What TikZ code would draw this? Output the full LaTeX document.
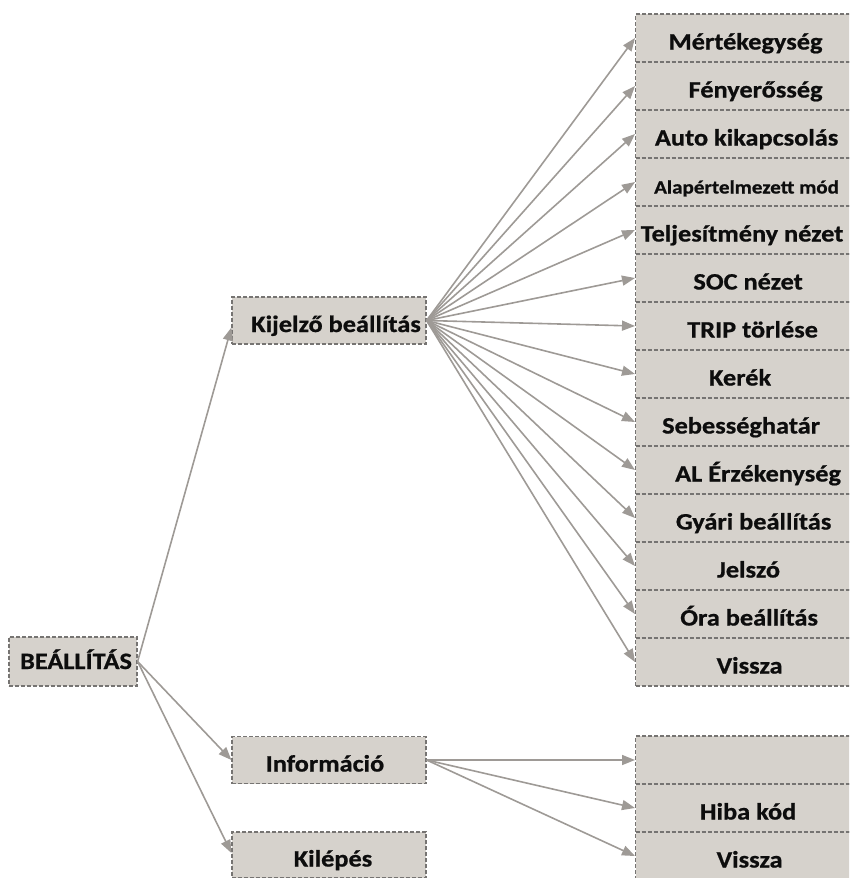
\documentclass[tikz,border=0pt]{standalone}
\usepackage{fontspec}
\setmainfont{Carlito}[FakeStretch=1.12, BoldFeatures={FakeBold=0.8}]
\usetikzlibrary{arrows.meta}
\definecolor{boxfill}{RGB}{214,210,204}
\definecolor{boxline}{RGB}{118,116,114}
\definecolor{arr}{RGB}{158,154,150}
\newcommand\sht[2]{\hspace*{#1}#2}
\begin{document}
\begin{tikzpicture}[x=1pt,y=-1pt,
 box/.style={draw=boxline, fill=boxfill, dash pattern=on 4pt off 2pt, line width=1.2pt, rectangle, inner sep=0pt, text=black!95, font=\bfseries\fontsize{23.5}{26}\selectfont, text height=25pt, text depth=2pt},
 midbox/.style={box, minimum width=194pt, minimum height=47pt},
 rbox/.style={box, minimum width=218pt, minimum height=48pt, anchor=west},
 conn/.style={draw=arr, line width=1.6pt, -{Triangle[length=13pt,width=10pt]}}
]
\useasboundingbox (0,0) rectangle (849,878);
\clip (0,0) rectangle (849,878);

\node[box, minimum width=128pt, minimum height=49pt, text height=16pt, text depth=1pt] (root) at (73,661.5) {\sht{6pt}{BEÁLLÍTÁS}};
\node[midbox] (kij) at (329,320.5) {\sht{14pt}{Kijelző beállítás}};
\node[midbox] (info) at (329,760) {\sht{-8pt}{Információ}};
\node[midbox, minimum height=46pt] (kil) at (329,855) {\sht{8pt}{Kilépés}};

\node[rbox] (r1) at (635,38) {\sht{2pt}{Mértékegység}};
\node[rbox] (r2) at (635,86) {\sht{22pt}{Fényerősség}};
\node[rbox] (r3) at (635,134) {\sht{4pt}{Auto kikapcsolás}};
\node[rbox, font=\bfseries\fontsize{18.8}{22}\selectfont] (r4) at (635,182) {\sht{4pt}{Alapértelmezett mód}};
\node[rbox] (r5) at (635,230) {\sht{-5pt}{Teljesítmény nézet}};
\node[rbox] (r6) at (635,278) {\sht{7pt}{SOC nézet}};
\node[rbox] (r7) at (635,326) {\sht{16pt}{TRIP törlése}};
\node[rbox] (r8) at (635,374) {\sht{-9pt}{Kerék}};
\node[rbox] (r9) at (635,422) {\sht{-7pt}{Sebességhatár}};
\node[rbox] (r10) at (635,470) {\sht{27pt}{AL Érzékenység}};
\node[rbox] (r11) at (635,518) {\sht{18pt}{Gyári beállítás}};
\node[rbox] (r12) at (635,566) {\sht{8pt}{Jelszó}};
\node[rbox] (r13) at (635,614) {\sht{9pt}{Óra beállítás}};
\node[rbox] (r14) at (635,662) {\sht{10pt}{Vissza}};

\node[rbox] (i1) at (635,760) {};
\node[rbox] (i2) at (635,808) {\sht{7pt}{Hiba kód}};
\node[rbox] (i3) at (635,856) {\sht{10pt}{Vissza}};

\draw[conn] (root.east) -- ([yshift=-7pt]kij.west);
\draw[conn] (root.east) -- (info.west);
\draw[conn] (root.east) -- ([yshift=2pt]kil.west);

\foreach \i in {1,...,14}{
  \draw[conn] (kij.east) -- (r\i.west);
}
\foreach \i in {1,2,3}{
  \draw[conn] (info.east) -- (i\i.west);
}
\end{tikzpicture}
\end{document}
